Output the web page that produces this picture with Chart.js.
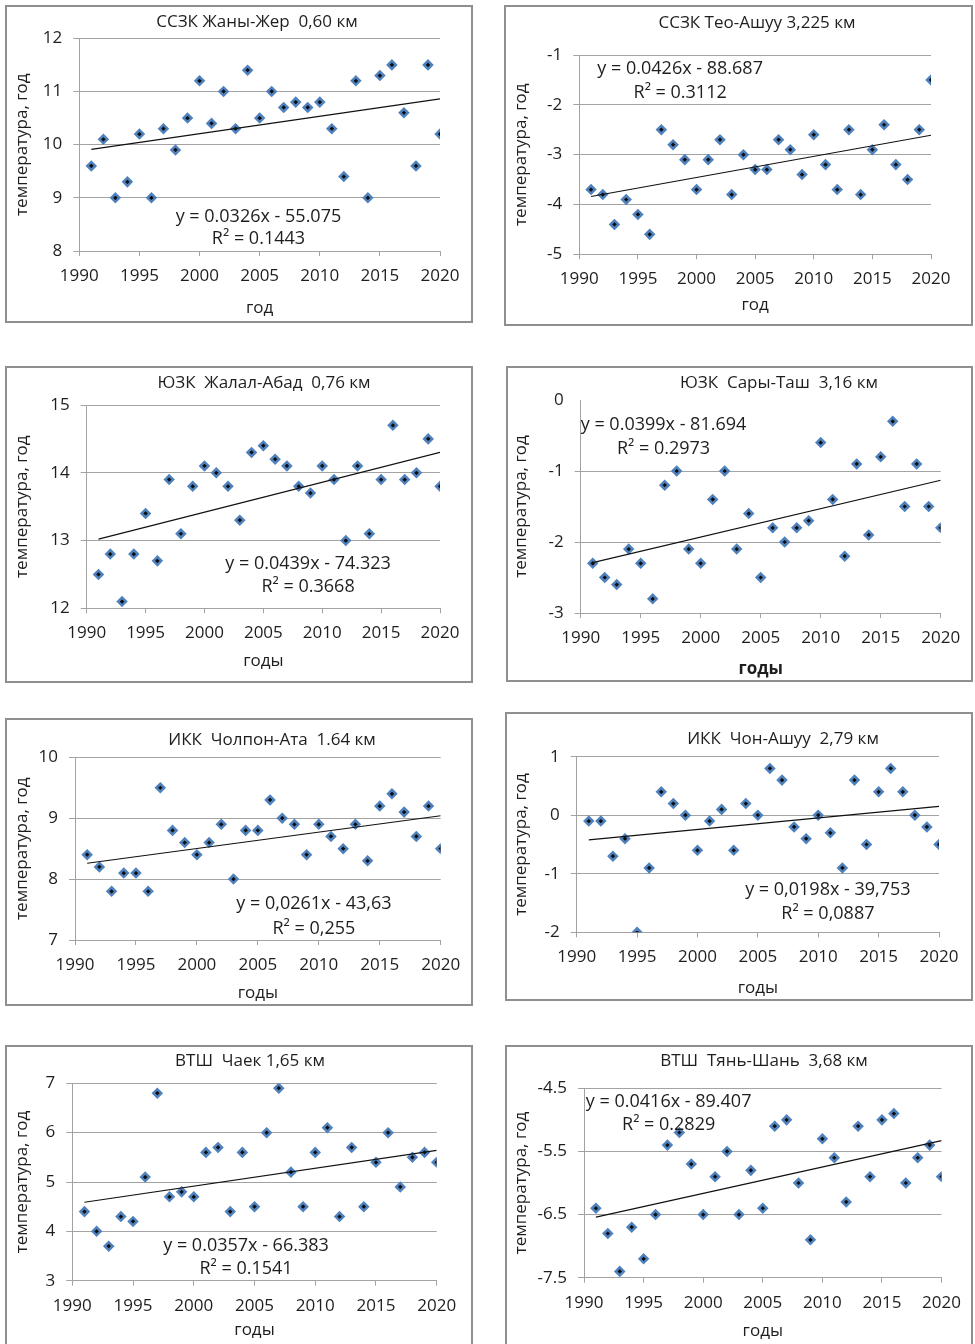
<!DOCTYPE html>
<html lang="ru">
<head>
<meta charset="utf-8">
<script src="https://cdn.jsdelivr.net/npm/chart.js@4.4.1/dist/chart.umd.min.js"></script>
<style>
  html, body { margin: 0; padding: 0; background: #fff; }
  body { width: 975px; height: 1344px; position: relative; overflow: hidden; }
  .panel { position: absolute; box-sizing: border-box; border: 2px solid #8f8f8f; background: #fff; }
  .panel canvas { position: absolute; left: 0; top: 0; }
</style>
</head>
<body>
<script>
const years = [1991, 1992, 1993, 1994, 1995, 1996, 1997, 1998, 1999, 2000,
               2001, 2002, 2003, 2004, 2005, 2006, 2007, 2008, 2009, 2010,
               2011, 2012, 2013, 2014, 2015, 2016, 2017, 2018, 2019, 2020];
const xTicks = [1990, 1995, 2000, 2005, 2010, 2015, 2020];

// ССЗК Жаны-Жер
const zhanyZher = [9.6, 10.1, 9.0, 9.3, 10.2, 9.0, 10.3, 9.9, 10.5, 11.2, 10.4, 11.0, 10.3, 11.4, 10.5,
                   11.0, 10.7, 10.8, 10.7, 10.8, 10.3, 9.4, 11.2, 9.0, 11.3, 11.5, 10.6, 9.6, 11.5, 10.2];
const zhanyZherTrend = [9.91, 10.86];
const zhanyZherTicks = [8, 9, 10, 11, 12];

// ССЗК Тео-Ашуу
const teoAshuu = [-3.7, -3.8, -4.4, -3.9, -4.2, -4.6, -2.5, -2.8, -3.1, -3.7, -3.1, -2.7, -3.8, -3.0, -3.3,
                  -3.3, -2.7, -2.9, -3.4, -2.6, -3.2, -3.7, -2.5, -3.8, -2.9, -2.4, -3.2, -3.5, -2.5, -1.5];
const teoAshuuTrend = [-3.84, -2.61];
const teoAshuuTicks = [-5, -4, -3, -2, -1];

// ЮЗК Жалал-Абад
const jalalAbad = [12.5, 12.8, 12.1, 12.8, 13.4, 12.7, 13.9, 13.1, 13.8, 14.1, 14.0, 13.8, 13.3, 14.3, 14.4,
                   14.2, 14.1, 13.8, 13.7, 14.1, 13.9, 13.0, 14.1, 13.1, 13.9, 14.7, 13.9, 14.0, 14.5, 13.8];
const jalalAbadTrend = [13.02, 14.30];
const jalalAbadTicks = [12, 13, 14, 15];

// ЮЗК Сары-Таш
const saryTash = [-2.3, -2.5, -2.6, -2.1, -2.3, -2.8, -1.2, -1.0, -2.1, -2.3, -1.4, -1.0, -2.1, -1.6, -2.5,
                  -1.8, -2.0, -1.8, -1.7, -0.6, -1.4, -2.2, -0.9, -1.9, -0.8, -0.3, -1.5, -0.9, -1.5, -1.8];
const saryTashTrend = [-2.29, -1.13];
const saryTashTicks = [-3, -2, -1, 0];

// ИКК Чолпон-Ата
const cholponAta = [8.4, 8.2, 7.8, 8.1, 8.1, 7.8, 9.5, 8.8, 8.6, 8.4, 8.6, 8.9, 8.0, 8.8, 8.8,
                    9.3, 9.0, 8.9, 8.4, 8.9, 8.7, 8.5, 8.9, 8.3, 9.2, 9.4, 9.1, 8.7, 9.2, 8.5];
const cholponAtaTrend = [8.26, 9.04];
const cholponAtaTicks = [7, 8, 9, 10];

// ИКК Чон-Ашуу
const chonAshuu = [-0.1, -0.1, -0.7, -0.4, -2.0, -0.9, 0.4, 0.2, 0.0, -0.6, -0.1, 0.1, -0.6, 0.2, 0.0,
                   0.8, 0.6, -0.2, -0.4, 0.0, -0.3, -0.9, 0.6, -0.5, 0.4, 0.8, 0.4, 0.0, -0.2, -0.5];
const chonAshuuTrend = [-0.42, 0.15];
const chonAshuuTicks = [-2, -1, 0, 1];

// ВТШ Чаек
const chaek = [4.4, 4.0, 3.7, 4.3, 4.2, 5.1, 6.8, 4.7, 4.8, 4.7, 5.6, 5.7, 4.4, 5.6, 4.5,
               6.0, 6.9, 5.2, 4.5, 5.6, 6.1, 4.3, 5.7, 4.5, 5.4, 6.0, 4.9, 5.5, 5.6, 5.4];
const chaekTrend = [4.59, 5.64];
const chaekTicks = [3, 4, 5, 6, 7];

// ВТШ Тянь-Шань
const tianShan = [-6.4, -6.8, -7.4, -6.7, -7.2, -6.5, -5.4, -5.2, -5.7, -6.5, -5.9, -5.5, -6.5, -5.8, -6.4,
                  -5.1, -5.0, -6.0, -6.9, -5.3, -5.6, -6.3, -5.1, -5.9, -5.0, -4.9, -6.0, -5.6, -5.4, -5.9];
const tianShanTrend = [-6.54, -5.33];
const tianShanTicks = [-7.5, -6.5, -5.5, -4.5];

const FONT = '"Open Sans", "Noto Sans", sans-serif';
const TEXT = '#1e1e1e';
const GRID = '#a3a3a3';

// page geometry of every panel: frame, plot area, text anchors
const panels = [
  { title: 'ССЗК Жаны-Жер  0,60 км', values: zhanyZher, trend: zhanyZherTrend, ticks: zhanyZherTicks,
    eq: ['y = 0.0326x - 55.075', 'R² = 0.1443'], eqX: 2004.9, eqY: [8.65, 8.22], xTitle: 'год',
    box: { l: 5, t: 5, r: 473, b: 323 }, plot: { l: 79.3, t: 38.3, r: 440, b: 251 },
    titleX: 257, titleY: 22, yTitleX: 22, xTitleY: 308 },
  { title: 'ССЗК Тео-Ашуу 3,225 км', values: teoAshuu, trend: teoAshuuTrend, ticks: teoAshuuTicks,
    eq: ['y = 0.0426x - 88.687', 'R² = 0.3112'], eqX: 1998.6, eqY: [-1.28, -1.76], xTitle: 'год',
    box: { l: 504, t: 5, r: 973, b: 326 }, plot: { l: 579.3, t: 55, r: 931, b: 254.3 },
    titleX: 757, titleY: 23, yTitleX: 521, xTitleY: 305 },
  { title: 'ЮЗК  Жалал-Абад  0,76 км', values: jalalAbad, trend: jalalAbadTrend, ticks: jalalAbadTicks,
    eq: ['y = 0.0439x - 74.323', 'R² = 0.3668'], eqX: 2008.8, eqY: [12.65, 12.31], xTitle: 'годы',
    box: { l: 5, t: 366, r: 473, b: 683 }, plot: { l: 86.7, t: 405, r: 440, b: 608.3 },
    titleX: 264, titleY: 383, yTitleX: 22, xTitleY: 661 },
  { title: 'ЮЗК  Сары-Таш  3,16 км', values: saryTash, trend: saryTashTrend, ticks: saryTashTicks,
    eq: ['y = 0.0399x - 81.694', 'R² = 0.2973'], eqX: 1996.9, eqY: [-0.35, -0.69], xTitle: 'годы', xBold: true,
    hideTopGrid: true,
    box: { l: 506, t: 366, r: 973, b: 682 }, plot: { l: 580.7, t: 400, r: 940.7, b: 613 },
    titleX: 779, titleY: 383, yTitleX: 521, xTitleY: 669 },
  { title: 'ИКК  Чолпон-Ата  1.64 км', values: cholponAta, trend: cholponAtaTrend, ticks: cholponAtaTicks,
    eq: ['y = 0,0261x - 43,63', 'R² = 0,255'], eqX: 2009.6, eqY: [7.59, 7.19], xTitle: 'годы',
    box: { l: 5, t: 718, r: 473, b: 1006 }, plot: { l: 75, t: 757.3, r: 440.7, b: 940 },
    titleX: 272, titleY: 740, yTitleX: 22, xTitleY: 993 },
  { title: 'ИКК  Чон-Ашуу  2,79 км', values: chonAshuu, trend: chonAshuuTrend, ticks: chonAshuuTicks,
    eq: ['y = 0,0198x - 39,753', 'R² = 0,0887'], eqX: 2010.8, eqY: [-1.27, -1.68], xTitle: 'годы',
    box: { l: 505, t: 712, r: 973, b: 1001 }, plot: { l: 576.7, t: 756.7, r: 939, b: 932.3 },
    titleX: 783, titleY: 739, yTitleX: 521, xTitleY: 988 },
  { title: 'ВТШ  Чаек 1,65 км', values: chaek, trend: chaekTrend, ticks: chaekTicks,
    eq: ['y = 0.0357x - 66.383', 'R² = 0.1541'], eqX: 2004.3, eqY: [3.71, 3.23], xTitle: 'годы',
    box: { l: 5, t: 1045, r: 473, b: 1350 }, plot: { l: 72.3, t: 1083.3, r: 436.7, b: 1280.7 },
    titleX: 250, titleY: 1061, yTitleX: 22, xTitleY: 1330 },
  { title: 'ВТШ  Тянь-Шань  3,68 км', values: tianShan, trend: tianShanTrend, ticks: tianShanTicks,
    eq: ['y = 0.0416x - 89.407', 'R² = 0.2829'], eqX: 1997.1, eqY: [-4.71, -5.08], xTitle: 'годы',
    box: { l: 505, t: 1045, r: 973, b: 1350 }, plot: { l: 584, t: 1088.3, r: 943.3, b: 1277.7 },
    titleX: 764, titleY: 1061, yTitleX: 521, xTitleY: 1331 }
];

// chart title + trendline equation, drawn on top of the plot
const panelText = {
  id: 'panelText',
  afterDraw(chart, args, opts) {
    const { ctx, scales: { x, y } } = chart;
    ctx.save();
    ctx.fillStyle = TEXT;
    ctx.textAlign = 'center';
    ctx.textBaseline = 'middle';
    ctx.font = '17px ' + FONT;
    ctx.fillText(opts.title, opts.titleX, opts.titleY);
    ctx.font = '18px ' + FONT;
    opts.eq.forEach((line, i) => {
      ctx.fillText(line, x.getPixelForValue(opts.eqX), y.getPixelForValue(opts.eqY[i]));
    });
    ctx.restore();
  }
};

function buildPanel(p) {
  const w = p.box.r - p.box.l;
  const h = p.box.b - p.box.t;
  const div = document.createElement('div');
  div.className = 'panel';
  div.style.left = p.box.l + 'px';
  div.style.top = p.box.t + 'px';
  div.style.width = w + 'px';
  div.style.height = h + 'px';
  const canvas = document.createElement('canvas');
  const cw = w - 4, ch = h - 4;
  canvas.width = cw;
  canvas.height = ch;
  div.appendChild(canvas);
  document.body.appendChild(div);

  const ox = p.box.l + 2, oy = p.box.t + 2;
  const lh = 17 * 1.2;
  const topTick = p.ticks[p.ticks.length - 1];

  new Chart(canvas, {
    type: 'scatter',
    data: {
      datasets: [
        {
          data: [{ x: years[0], y: p.trend[0] }, { x: years[years.length - 1], y: p.trend[1] }],
          type: 'line',
          borderColor: '#111',
          borderWidth: 1.2,
          pointRadius: 0,
          fill: false,
          order: 0
        },
        {
          data: years.map((yr, i) => ({ x: yr, y: p.values[i] })),
          pointStyle: 'rectRot',
          pointRadius: 4,
          pointBackgroundColor: '#0d0d0d',
          pointBorderColor: '#4f81bd',
          pointBorderWidth: 2.5,
          order: 1
        }
      ]
    },
    options: {
      responsive: false,
      animation: false,
      devicePixelRatio: 1,
      layout: {
        padding: { left: 0, top: p.plot.t - oy, right: ox + cw - p.plot.r, bottom: 0 }
      },
      plugins: {
        legend: { display: false },
        tooltip: { enabled: false },
        title: { display: false },
        panelText: {
          title: p.title, titleX: p.titleX - ox, titleY: p.titleY - oy,
          eq: p.eq, eqX: p.eqX, eqY: p.eqY
        }
      },
      scales: {
        x: {
          type: 'linear',
          min: xTicks[0],
          max: xTicks[xTicks.length - 1],
          afterBuildTicks: s => { s.ticks = xTicks.map(v => ({ value: v })); },
          afterFit: s => { s.height = oy + ch - p.plot.b; },
          grid: { drawOnChartArea: false, drawTicks: true, tickLength: 5, color: GRID },
          border: { color: GRID, width: 1 },
          ticks: {
            autoSkip: false, maxRotation: 0, padding: 10, color: TEXT,
            font: { family: FONT, size: 17 },
            callback: v => String(v)
          },
          title: {
            display: true, text: p.xTitle, color: TEXT,
            font: { family: FONT, size: 17, weight: p.xBold ? 'bold' : 'normal' },
            padding: { top: 0, bottom: oy + ch - p.xTitleY - lh / 2 }
          }
        },
        y: {
          type: 'linear',
          min: p.ticks[0],
          max: topTick,
          afterBuildTicks: s => { s.ticks = p.ticks.map(v => ({ value: v })); },
          afterFit: s => { s.width = p.plot.l - ox; },
          grid: {
            tickLength: 6,
            color: c => (p.hideTopGrid && c.tick && c.tick.value === topTick) ? 'rgba(0,0,0,0)' : GRID
          },
          border: { color: GRID, width: 1 },
          ticks: {
            padding: 11, color: TEXT,
            font: { family: FONT, size: 17 },
            callback: v => String(v)
          },
          title: {
            display: true, text: 'температура, год', color: TEXT,
            font: { family: FONT, size: 17 },
            padding: { top: p.yTitleX - ox - lh / 2, bottom: 0 }
          }
        }
      }
    },
    plugins: [panelText]
  });
}

document.addEventListener('DOMContentLoaded', () => {
  panels.forEach(buildPanel);
});
</script>
</body>
</html>
